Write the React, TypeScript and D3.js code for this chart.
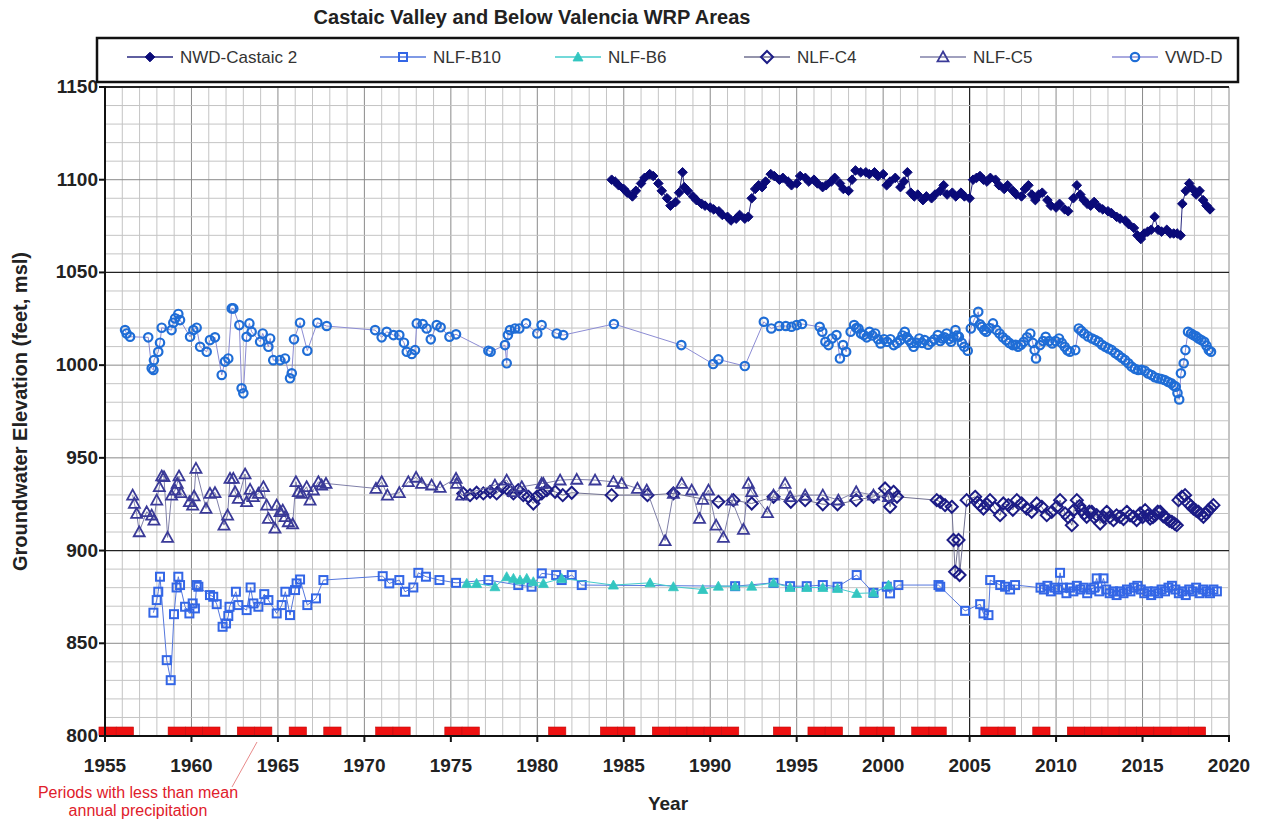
import React from "react";
import * as d3 from "d3";

type Pt = [number, number];

const title = "Castaic Valley and Below Valencia WRP Areas";
const yTicks = [800, 850, 900, 950, 1000, 1050, 1100, 1150];
const xTicks = [1955, 1960, 1965, 1970, 1975, 1980, 1985, 1990, 1995, 2000, 2005, 2010, 2015, 2020];
const dryYears = [1954, 1955, 1958, 1959, 1960, 1962, 1963, 1965, 1967, 1970, 1971, 1974, 1975, 1980, 1983, 1984,
  1986, 1987, 1988, 1989, 1990, 1993, 1995, 1996, 1998, 1999, 2001, 2002, 2005, 2006, 2008,
  2010, 2011, 2012, 2013, 2014, 2015, 2016, 2017];

const nwdCastaic2: Pt[] = [
  [1984.3, 1100], [1984.5, 1099], [1984.7, 1097], [1985.0, 1095], [1985.2, 1093], [1985.5, 1091], [1985.7, 1094],
  [1986.0, 1098], [1986.2, 1101], [1986.5, 1103], [1986.7, 1102], [1987.0, 1098], [1987.2, 1094], [1987.5, 1090],
  [1987.7, 1086], [1988.0, 1088], [1988.2, 1093], [1988.4, 1104], [1988.5, 1096], [1988.7, 1094], [1989.0, 1091],
  [1989.2, 1089], [1989.5, 1087], [1989.7, 1086], [1990.0, 1085], [1990.2, 1084], [1990.5, 1083], [1990.7, 1081],
  [1991.0, 1080], [1991.2, 1078], [1991.5, 1079], [1991.7, 1081], [1992.0, 1079], [1992.2, 1080], [1992.4, 1090],
  [1992.6, 1095], [1992.8, 1097], [1993.0, 1096], [1993.2, 1099], [1993.5, 1103], [1993.7, 1102], [1994.0, 1100],
  [1994.2, 1101], [1994.5, 1099], [1994.7, 1097], [1995.0, 1098], [1995.2, 1102], [1995.5, 1101], [1995.7, 1099],
  [1996.0, 1100], [1996.2, 1098], [1996.5, 1096], [1996.7, 1097], [1997.0, 1099], [1997.2, 1101], [1997.5, 1098],
  [1997.7, 1095], [1998.0, 1094], [1998.2, 1100], [1998.4, 1105], [1998.7, 1104], [1999.0, 1104], [1999.2, 1103],
  [1999.5, 1104], [1999.7, 1102], [2000.0, 1103], [2000.2, 1097], [2000.4, 1099], [2000.7, 1101], [2001.0, 1096],
  [2001.2, 1099], [2001.4, 1104], [2001.6, 1093], [2001.8, 1091], [2002.0, 1092], [2002.3, 1089], [2002.5, 1091],
  [2002.8, 1090], [2003.0, 1092], [2003.3, 1094], [2003.5, 1097], [2003.7, 1092], [2004.0, 1093], [2004.2, 1091],
  [2004.5, 1093], [2004.7, 1091], [2005.0, 1090], [2005.2, 1100], [2005.4, 1101], [2005.6, 1102], [2005.8, 1100],
  [2006.0, 1099], [2006.2, 1101], [2006.5, 1100], [2006.7, 1097], [2007.0, 1095], [2007.2, 1097], [2007.5, 1094],
  [2007.7, 1092], [2008.0, 1091], [2008.2, 1095], [2008.4, 1097], [2008.6, 1092], [2008.8, 1089], [2009.0, 1092],
  [2009.2, 1093], [2009.5, 1089], [2009.7, 1086], [2010.0, 1085], [2010.2, 1087], [2010.5, 1084], [2010.7, 1083],
  [2011.0, 1090], [2011.2, 1097], [2011.4, 1092], [2011.6, 1089], [2011.8, 1087], [2012.0, 1086], [2012.2, 1088],
  [2012.5, 1085], [2012.7, 1084], [2013.0, 1083], [2013.2, 1082], [2013.5, 1080], [2013.7, 1079], [2014.0, 1078],
  [2014.2, 1076], [2014.5, 1074], [2014.7, 1070], [2014.9, 1068], [2015.1, 1071], [2015.3, 1072], [2015.5, 1073],
  [2015.7, 1080], [2015.9, 1073], [2016.1, 1072], [2016.4, 1073], [2016.6, 1071], [2016.8, 1071], [2017.0, 1071],
  [2017.2, 1070], [2017.3, 1087], [2017.5, 1094], [2017.7, 1098], [2017.9, 1095], [2018.1, 1092], [2018.3, 1094],
  [2018.5, 1089], [2018.7, 1086], [2018.9, 1084],
];

const nlfB10: Pt[] = [
  [1957.8, 866.5], [1957.99, 873.3], [1958.08, 877.8], [1958.18, 885.9], [1958.57, 840.9], [1958.8, 830.1],
  [1958.99, 865.7], [1959.14, 880.1], [1959.24, 885.9], [1959.34, 881.4], [1959.63, 869.7], [1959.88, 866.1],
  [1960.07, 871.5], [1960.2, 868.8], [1960.3, 881.4], [1960.4, 880.5], [1961.07, 876], [1961.26, 875.1],
  [1961.46, 871.1], [1961.8, 858.9], [1962.0, 860.7], [1962.13, 864.7], [1962.2, 869.7], [1962.57, 877.8],
  [1962.71, 870.6], [1963.19, 867.9], [1963.42, 880.1], [1963.58, 871.5], [1963.87, 869.7], [1964.21, 876.5],
  [1964.45, 873.3], [1964.93, 866.1], [1965.22, 870.6], [1965.43, 877.8], [1965.7, 865.2], [1965.99, 878.7],
  [1966.08, 882.3], [1966.28, 884.4], [1966.7, 870.6], [1967.2, 874.2], [1967.63, 884.1], [1971.06, 886.2],
  [1971.44, 882.3], [1972.02, 884.1], [1972.35, 877.8], [1972.83, 880.1], [1973.12, 888], [1973.56, 885.9],
  [1974.34, 884.1], [1975.3, 882.6], [1977.17, 884.1], [1978.9, 881.4], [1979.67, 880.5], [1980.26, 887.7],
  [1981.09, 886.8], [1981.41, 884.1], [1981.99, 886.8], [1982.57, 881.4], [1991.44, 880.8], [1993.66, 882.6],
  [1994.62, 880.8], [1995.58, 880.8], [1996.51, 881.4], [1997.36, 880.5], [1998.47, 886.8], [1999.44, 877.2],
  [2000.21, 880.5], [2000.4, 876.9], [2000.88, 881.4], [2003.2, 881.4], [2003.3, 880.5], [2004.74, 867.5],
  [2005.61, 871.1], [2005.8, 866.1], [2006.09, 865.2], [2006.19, 884.1], [2006.77, 881.4], [2007.05, 880.5],
  [2007.34, 879], [2007.63, 881.4], [2009.1, 880], [2009.3, 879], [2009.5, 881], [2009.7, 878], [2009.9, 880],
  [2010.1, 879], [2010.23, 888], [2010.4, 880], [2010.6, 877], [2010.8, 880], [2011.0, 878], [2011.2, 881],
  [2011.4, 879], [2011.6, 880], [2011.8, 877], [2012.0, 879], [2012.2, 880], [2012.35, 885], [2012.5, 878],
  [2012.74, 885], [2012.9, 879], [2013.1, 877], [2013.3, 878], [2013.5, 876], [2013.7, 878], [2013.9, 877],
  [2014.1, 879], [2014.3, 878], [2014.5, 880], [2014.7, 881], [2014.9, 879], [2015.1, 877], [2015.3, 878],
  [2015.5, 876], [2015.7, 878], [2015.9, 877], [2016.1, 879], [2016.3, 878], [2016.5, 880], [2016.7, 881],
  [2016.9, 879], [2017.1, 877], [2017.3, 878], [2017.5, 876], [2017.7, 879], [2017.9, 878], [2018.1, 880],
  [2018.3, 877], [2018.5, 879], [2018.7, 878], [2018.9, 877], [2019.1, 879], [2019.3, 878],
];

const nlfB6: Pt[] = [
  [1975.92, 882.3], [1976.49, 882.3], [1977.55, 880.5], [1978.23, 885.9], [1978.62, 885], [1979.0, 884.1],
  [1979.39, 885], [1979.77, 883.2], [1980.35, 882.3], [1981.41, 885], [1984.4, 881.4], [1986.52, 882.6],
  [1987.87, 880.5], [1989.57, 879], [1990.47, 880.8], [1991.44, 880.8], [1992.4, 880.8], [1993.66, 882.6],
  [1994.62, 880.1], [1995.58, 880.1], [1996.51, 880.1], [1997.36, 879.6], [1998.47, 876.9], [1999.44, 877.2],
  [2000.31, 881.4],
];

const nlfC4: Pt[] = [
  [1975.72, 930.8], [1976.11, 929.9], [1976.49, 931.2], [1976.88, 930.8], [1977.27, 931.7], [1977.65, 930.8],
  [1978.04, 934.4], [1978.33, 932.6], [1978.62, 930.8], [1978.9, 932.6], [1979.19, 929.9], [1979.48, 929],
  [1979.77, 925.4], [1979.97, 929], [1980.26, 930.8], [1980.55, 932.6], [1981.03, 931.7], [1981.47, 929.9],
  [1981.99, 931.2], [1984.3, 929.9], [1986.37, 929.9], [1987.87, 930.8], [1990.47, 926.3], [1991.34, 927.2],
  [1992.4, 925.4], [1993.66, 929], [1994.66, 926.3], [1995.49, 927.2], [1996.51, 925], [1997.36, 925],
  [1998.44, 927.2], [1999.44, 929], [2000.11, 933.5], [2000.31, 929], [2000.4, 923.6], [2000.6, 931.7],
  [2000.8, 929], [2003.1, 927.2], [2003.3, 926.3], [2003.58, 924.5], [2003.97, 923.6], [2004.07, 905.7],
  [2004.16, 888.6], [2004.36, 905.7], [2004.42, 886.8], [2004.83, 927.2], [2005.32, 929], [2005.45, 926],
  [2005.6, 924.5], [2005.8, 922.7], [2006.0, 925], [2006.18, 927.2], [2006.45, 923], [2006.76, 919.1],
  [2006.95, 925.4], [2007.24, 924.5], [2007.5, 922], [2007.73, 927.2], [2008.01, 925.4], [2008.3, 922.7],
  [2008.59, 920.9], [2008.88, 925.4], [2009.17, 923.6], [2009.46, 919.1], [2009.75, 920.9], [2010.04, 923.6],
  [2010.23, 927.2], [2010.52, 920], [2010.7, 918], [2010.91, 913.7], [2011.05, 922], [2011.2, 927.2],
  [2011.35, 924], [2011.49, 921.8], [2011.63, 920], [2011.77, 918.2], [2011.92, 921], [2012.06, 920.9],
  [2012.2, 918], [2012.35, 919.1], [2012.55, 914.6], [2012.75, 918], [2012.93, 920.9], [2013.1, 918],
  [2013.32, 916.4], [2013.5, 919], [2013.7, 918.2], [2013.9, 917], [2014.09, 920.9], [2014.28, 919],
  [2014.47, 918.2], [2014.66, 916.5], [2014.86, 920], [2015.0, 918], [2015.15, 921.8], [2015.3, 919],
  [2015.44, 917.3], [2015.6, 918], [2015.73, 919.1], [2015.88, 921], [2016.02, 920.9], [2016.2, 918.5],
  [2016.4, 917.3], [2016.55, 916], [2016.69, 915.5], [2016.85, 914.5], [2016.98, 913.7], [2017.08, 927.2],
  [2017.27, 929], [2017.46, 929.9], [2017.65, 925.4], [2017.8, 924], [2017.94, 922.7], [2018.1, 921.5],
  [2018.23, 920.9], [2018.38, 919.5], [2018.52, 918.2], [2018.67, 920], [2018.81, 921.8], [2018.95, 923],
  [2019.1, 924.5],
];

const nlfC5: Pt[] = [
  [1956.6, 929.9], [1956.7, 925.4], [1956.83, 920], [1956.98, 910.1], [1957.41, 920.9], [1957.7, 919.1],
  [1957.83, 916.4], [1957.99, 927.2], [1958.14, 934.4], [1958.28, 940.2], [1958.41, 939.8], [1958.62, 907.1],
  [1958.85, 929.9], [1959.05, 932.6], [1959.18, 936.2], [1959.28, 940.2], [1959.39, 931.2], [1959.88, 926.3],
  [1960.07, 924.5], [1960.15, 929.4], [1960.26, 944.3], [1960.84, 922.7], [1961.07, 930.8], [1961.36, 931.2],
  [1961.88, 913.7], [1962.09, 919.1], [1962.23, 938.9], [1962.42, 938.9], [1962.52, 931.7], [1962.71, 928.1],
  [1963.1, 941.3], [1963.19, 926.3], [1963.39, 933], [1963.58, 929], [1963.87, 930.8], [1964.16, 934.4],
  [1964.35, 924.5], [1964.45, 917.3], [1964.83, 912], [1964.93, 924.5], [1965.12, 920.9], [1965.28, 921.8],
  [1965.41, 918.2], [1965.6, 915.5], [1965.85, 914.3], [1966.04, 937.1], [1966.18, 931.7], [1966.37, 930.8],
  [1966.66, 934.4], [1966.86, 927.2], [1967.05, 932.6], [1967.34, 937.1], [1967.53, 935.3], [1967.78, 936.2],
  [1970.67, 933.5], [1971.0, 937.1], [1971.33, 929.9], [1972.02, 931.2], [1972.54, 937.1], [1972.99, 939.5],
  [1973.31, 936.2], [1973.89, 935.3], [1974.38, 934], [1975.3, 938.9], [1975.34, 936.2], [1975.63, 929.9],
  [1977.55, 935.3], [1978.23, 938], [1978.62, 931.7], [1979.1, 934.4], [1980.25, 936.2], [1980.35, 936.2],
  [1981.32, 938], [1982.28, 938.4], [1983.34, 938], [1984.4, 937.1], [1984.88, 936.2], [1985.79, 933.5],
  [1986.33, 932.6], [1987.39, 905.3], [1987.87, 930.8], [1988.35, 936.2], [1988.93, 932.6], [1989.38, 917.3],
  [1989.57, 927.6], [1989.9, 932.6], [1990.34, 913.7], [1990.76, 907.1], [1991.25, 927.2], [1991.92, 911.4],
  [1992.21, 936.2], [1992.4, 931.7], [1993.31, 920.4], [1993.66, 929.9], [1994.33, 936.2], [1994.62, 929],
  [1995.49, 929.9], [1996.51, 929.9], [1997.41, 927.2], [1998.44, 931.7], [1999.44, 929.9], [2000.31, 929],
];

const vwdD: Pt[] = [
  [1956.16, 1018.9], [1956.25, 1017.1], [1956.45, 1015.3], [1957.5, 1015], [1957.7, 998.3], [1957.8, 997.4],
  [1957.83, 1002.7], [1958.08, 1007.2], [1958.18, 1012.1], [1958.28, 1020.2], [1958.85, 1018.9], [1958.95, 1022.9],
  [1959.05, 1025.2], [1959.24, 1027.6], [1959.34, 1024.3], [1959.92, 1015.3], [1960.11, 1018.9], [1960.3, 1020.2],
  [1960.5, 1009.9], [1960.88, 1007.2], [1961.07, 1013.5], [1961.36, 1015], [1961.75, 994.7], [1961.94, 1001.9],
  [1962.13, 1003.6], [1962.33, 1030.6], [1962.42, 1030.6], [1962.77, 1021.6], [1962.9, 987.5], [1963.0, 984.8],
  [1963.19, 1015.3], [1963.35, 1022.5], [1963.48, 1018], [1963.97, 1012.6], [1964.12, 1017.1], [1964.45, 1009.9],
  [1964.55, 1014.4], [1964.73, 1002.7], [1965.12, 1002.7], [1965.41, 1003.6], [1965.7, 992.9], [1965.8, 995.6],
  [1965.93, 1013.9], [1966.28, 1022.9], [1966.7, 1007.8], [1967.28, 1022.9], [1967.82, 1021.1], [1970.62, 1018.9],
  [1971.0, 1015], [1971.29, 1018], [1971.68, 1016.2], [1972.02, 1016.2], [1972.29, 1012.1], [1972.45, 1007.2],
  [1972.74, 1006], [1972.93, 1008.1], [1973.03, 1022.5], [1973.37, 1022.2], [1973.6, 1019.8], [1973.84, 1013.9],
  [1974.18, 1021.6], [1974.41, 1020.4], [1974.92, 1015.3], [1975.3, 1016.6], [1977.17, 1007.8], [1977.3, 1007.2],
  [1978.13, 1010.8], [1978.23, 1001], [1978.3, 1016.2], [1978.42, 1018.9], [1978.71, 1019.8], [1978.96, 1019.8],
  [1979.35, 1022.5], [1980.0, 1017.1], [1980.25, 1021.6], [1981.12, 1017.1], [1981.5, 1016.2], [1984.43, 1022.2],
  [1988.33, 1010.8], [1990.17, 1000.6], [1990.47, 1003.1], [1992.0, 999.5], [1993.1, 1023.4], [1993.53, 1019.8],
  [1993.99, 1021.1], [1994.37, 1021.1], [1994.7, 1020.7], [1995.0, 1021.6], [1995.31, 1022.2], [1996.33, 1020.7],
  [1996.48, 1018], [1996.66, 1012.6], [1996.84, 1010.8], [1997.04, 1014.4], [1997.3, 1016.2], [1997.5, 1003.6],
  [1997.68, 1010.8], [1997.86, 1007.2], [1998.12, 1018], [1998.32, 1021.6], [1998.45, 1020], [1998.57, 1019.8],
  [1998.72, 1017], [1998.88, 1016.2], [1999.05, 1015], [1999.21, 1018], [1999.38, 1016], [1999.54, 1017.1],
  [1999.7, 1014], [1999.85, 1011.7], [2000.05, 1014], [2000.23, 1012.6], [2000.42, 1014], [2000.61, 1010.8],
  [2000.8, 1012], [2000.99, 1013.5], [2001.12, 1016], [2001.25, 1018], [2001.38, 1015], [2001.5, 1013.5],
  [2001.63, 1012], [2001.76, 1009.9], [2001.92, 1012], [2002.09, 1014.4], [2002.25, 1012], [2002.4, 1013.5],
  [2002.6, 1011], [2002.78, 1012.6], [2002.97, 1014], [2003.16, 1016.2], [2003.3, 1013], [2003.42, 1014.4],
  [2003.55, 1015], [2003.67, 1017.1], [2003.8, 1014], [2003.93, 1012.6], [2004.05, 1015], [2004.18, 1018.9],
  [2004.28, 1016], [2004.38, 1015.3], [2004.55, 1012], [2004.69, 1009.9], [2004.89, 1007.8], [2005.07, 1019.8],
  [2005.25, 1024.3], [2005.5, 1028.8], [2005.6, 1022], [2005.71, 1020.7], [2005.84, 1019], [2005.96, 1018],
  [2006.15, 1020], [2006.35, 1022.5], [2006.55, 1019], [2006.73, 1017.1], [2006.92, 1015], [2007.11, 1013.5],
  [2007.3, 1012], [2007.49, 1010.8], [2007.65, 1011], [2007.8, 1009.9], [2007.97, 1011], [2008.13, 1012.6],
  [2008.32, 1015], [2008.51, 1017.1], [2008.65, 1012], [2008.76, 1008.1], [2008.84, 1003.6], [2009.07, 1010.8],
  [2009.25, 1013], [2009.4, 1015.3], [2009.6, 1013], [2009.78, 1011.7], [2009.97, 1013], [2010.17, 1014.4],
  [2010.33, 1012], [2010.5, 1009.9], [2010.65, 1008], [2010.8, 1007.2], [2011.11, 1008.1], [2011.31, 1019.8],
  [2011.45, 1018.5], [2011.62, 1017.1], [2011.85, 1015.5], [2012.08, 1014.4], [2012.27, 1013.5], [2012.46, 1012.6],
  [2012.65, 1011], [2012.84, 1009.9], [2013.03, 1009], [2013.22, 1008.1], [2013.42, 1006.5], [2013.61, 1005.4],
  [2013.8, 1004], [2013.99, 1002.7], [2014.18, 1001], [2014.37, 999.2], [2014.56, 998], [2014.75, 997.4],
  [2014.94, 997.5], [2015.13, 997], [2015.32, 995.5], [2015.52, 994.7], [2015.71, 993.5], [2015.9, 992.9],
  [2016.09, 992.5], [2016.28, 992], [2016.47, 991], [2016.66, 990.2], [2016.8, 989], [2016.92, 988.4],
  [2017.02, 985], [2017.12, 981.5], [2017.22, 995.6], [2017.38, 1001], [2017.48, 1008.1], [2017.63, 1018],
  [2017.8, 1017], [2017.94, 1016.2], [2018.1, 1015.5], [2018.24, 1014.4], [2018.4, 1013.5], [2018.57, 1012.6],
  [2018.7, 1010.5], [2018.83, 1008.1], [2018.96, 1007.2],
];

const seriesNames = ["NWD-Castaic 2", "NLF-B10", "NLF-B6", "NLF-C4", "NLF-C5", "VWD-D"];

const W = 1263;
const H = 821;
const x = d3.scaleLinear().domain([1955, 2020]).range([105, 1229]);
const y = d3.scaleLinear().domain([800, 1150]).range([736, 87]);

type Kind = "diamondFill" | "square" | "triFill" | "diamond" | "tri" | "circle";

function Marker({ kind, cx, cy, color }: { kind: Kind; cx: number; cy: number; color: string }) {
  switch (kind) {
    case "diamondFill": {
      const r = 4.8;
      return <path d={`M${cx},${cy - r}L${cx + r},${cy}L${cx},${cy + r}L${cx - r},${cy}Z`} fill={color} stroke={color} strokeWidth={1} />;
    }
    case "diamond": {
      const r = 6;
      return <path d={`M${cx},${cy - r}L${cx + r},${cy}L${cx},${cy + r}L${cx - r},${cy}Z`} fill="none" stroke={color} strokeWidth={2} />;
    }
    case "square": {
      const s = 8;
      return <rect x={cx - s / 2} y={cy - s / 2} width={s} height={s} fill="none" stroke={color} strokeWidth={2} />;
    }
    case "triFill": {
      const r = 5;
      return <path d={`M${cx},${cy - r}L${cx + r},${cy + r * 0.8}L${cx - r},${cy + r * 0.8}Z`} fill={color} stroke={color} strokeWidth={0.8} />;
    }
    case "tri": {
      const r = 5.5;
      return <path d={`M${cx},${cy - r}L${cx + r},${cy + r * 0.8}L${cx - r},${cy + r * 0.8}Z`} fill="none" stroke={color} strokeWidth={1.8} />;
    }
    case "circle":
    default:
      return <circle cx={cx} cy={cy} r={4.2} fill="none" stroke={color} strokeWidth={2.2} />;
  }
}

const seriesDefs: { data: Pt[]; kind: Kind; color: string; line: string }[] = [
  { data: nwdCastaic2, kind: "diamondFill", color: "#0a0a78", line: "#2a2a80" },
  { data: nlfB10, kind: "square", color: "#3366e6", line: "#5577dd" },
  { data: nlfB6, kind: "triFill", color: "#33c6c0", line: "#44cccc" },
  { data: nlfC4, kind: "diamond", color: "#1c1c86", line: "#707090" },
  { data: nlfC5, kind: "tri", color: "#3a3a98", line: "#8080a8" },
  { data: vwdD, kind: "circle", color: "#1f6dd6", line: "#8c8cd4" },
];

const legendX = [127, 380, 555, 744, 920, 1112];

export default function App() {
  const line = d3.line<Pt>().x((d) => x(d[0])).y((d) => y(d[1]));
  const years = d3.range(1955, 2021);
  const levels = d3.range(800, 1151, 10);
  const font = "Arial, 'Liberation Sans', sans-serif";

  const vColor = (yr: number) => (yr === 2005 ? "#222" : yr % 5 === 0 ? "#8a8a8a" : "#c4c4c4");
  const hColor = (v: number) => (v === 1050 || v === 900 || v === 1150 ? "#222" : v % 50 === 0 ? "#8a8a8a" : "#c4c4c4");

  return (
    <div style={{ position: "absolute", left: 0, top: 0, width: W, height: H, overflow: "hidden", background: "#fff" }}>
      <svg width={W} height={H} style={{ display: "block" }} fontFamily={font}>
        <rect width={W} height={H} fill="#fff" />
        <text x={532} y={24} textAnchor="middle" fontSize={20} fontWeight="bold" fill="#222">{title}</text>

        {/* grid */}
        {years.map((yr) => (
          <line key={"v" + yr} x1={x(yr)} x2={x(yr)} y1={y(1150)} y2={y(800)} stroke={vColor(yr)} strokeWidth={yr === 2005 ? 1.2 : 1} />
        ))}
        {levels.map((v) => (
          <line key={"h" + v} x1={x(1955)} x2={x(2020)} y1={y(v)} y2={y(v)} stroke={hColor(v)} strokeWidth={v === 1150 ? 2 : v === 1050 || v === 900 ? 1.3 : 1} />
        ))}

        {/* dry periods */}
        {dryYears.map((yr) => (
          <rect key={"d" + yr} x={x(yr + 0.65)} y={727} width={x(yr + 1.65) - x(yr + 0.65)} height={8.5} fill="#ee1111" stroke="#c40a0a" strokeWidth={0.6} />
        ))}

        {/* series */}
        {seriesDefs.map((s, i) => (
          <g key={"s" + i}>
            <path d={line(s.data) || ""} fill="none" stroke={s.line} strokeWidth={1} />
            {s.data.map((d, j) => (
              <Marker key={j} kind={s.kind} cx={x(d[0])} cy={y(d[1])} color={s.color} />
            ))}
          </g>
        ))}

        {/* axes */}
        <line x1={x(1955)} x2={x(1955)} y1={y(1150) - 1} y2={y(800) + 1} stroke="#111" strokeWidth={2} />
        <line x1={x(1955)} x2={x(2020) + 1} y1={y(800)} y2={y(800)} stroke="#111" strokeWidth={2} />
        {yTicks.map((v) => (
          <g key={"yt" + v}>
            <line x1={x(1955) - 6} x2={x(1955)} y1={y(v)} y2={y(v)} stroke="#111" strokeWidth={2} />
            <text x={x(1955) - 7} y={y(v) + 6} textAnchor="end" fontSize={19} fontWeight="bold" fill="#222">{v}</text>
          </g>
        ))}
        {xTicks.map((t) => (
          <g key={"xt" + t}>
            <line x1={x(t)} x2={x(t)} y1={y(800)} y2={y(800) + 6} stroke="#111" strokeWidth={2} />
            <text x={x(t)} y={772} textAnchor="middle" fontSize={19} fontWeight="bold" fill="#222">{t}</text>
          </g>
        ))}
        <text x={668} y={810} textAnchor="middle" fontSize={19} fontWeight="bold" fill="#222">Year</text>
        <text transform={`translate(27,${(y(800) + y(1150)) / 2}) rotate(-90)`} textAnchor="middle" fontSize={20} fontWeight="bold" fill="#222">
          Groundwater Elevation (feet, msl)
        </text>

        {/* annotation */}
        <line x1={257} y1={742} x2={232} y2={787} stroke="#e88a8a" strokeWidth={1} />
        <text x={138} y={798} textAnchor="middle" fontSize={16} fill="#e0202a">Periods with less than mean</text>
        <text x={138} y={816} textAnchor="middle" fontSize={16} fill="#e0202a">annual precipitation</text>

        {/* legend */}
        <rect x={97} y={38} width={1141} height={44} fill="#fff" stroke="#111" strokeWidth={2.5} />
        {seriesDefs.map((s, i) => (
          <g key={"lg" + i}>
            <line x1={legendX[i]} x2={legendX[i] + 46} y1={57} y2={57} stroke={s.line} strokeWidth={1.5} />
            <Marker kind={s.kind} cx={legendX[i] + 23} cy={57} color={s.color} />
            <text x={legendX[i] + 53} y={63} fontSize={17} fill="#333">{seriesNames[i]}</text>
          </g>
        ))}
      </svg>
    </div>
  );
}
